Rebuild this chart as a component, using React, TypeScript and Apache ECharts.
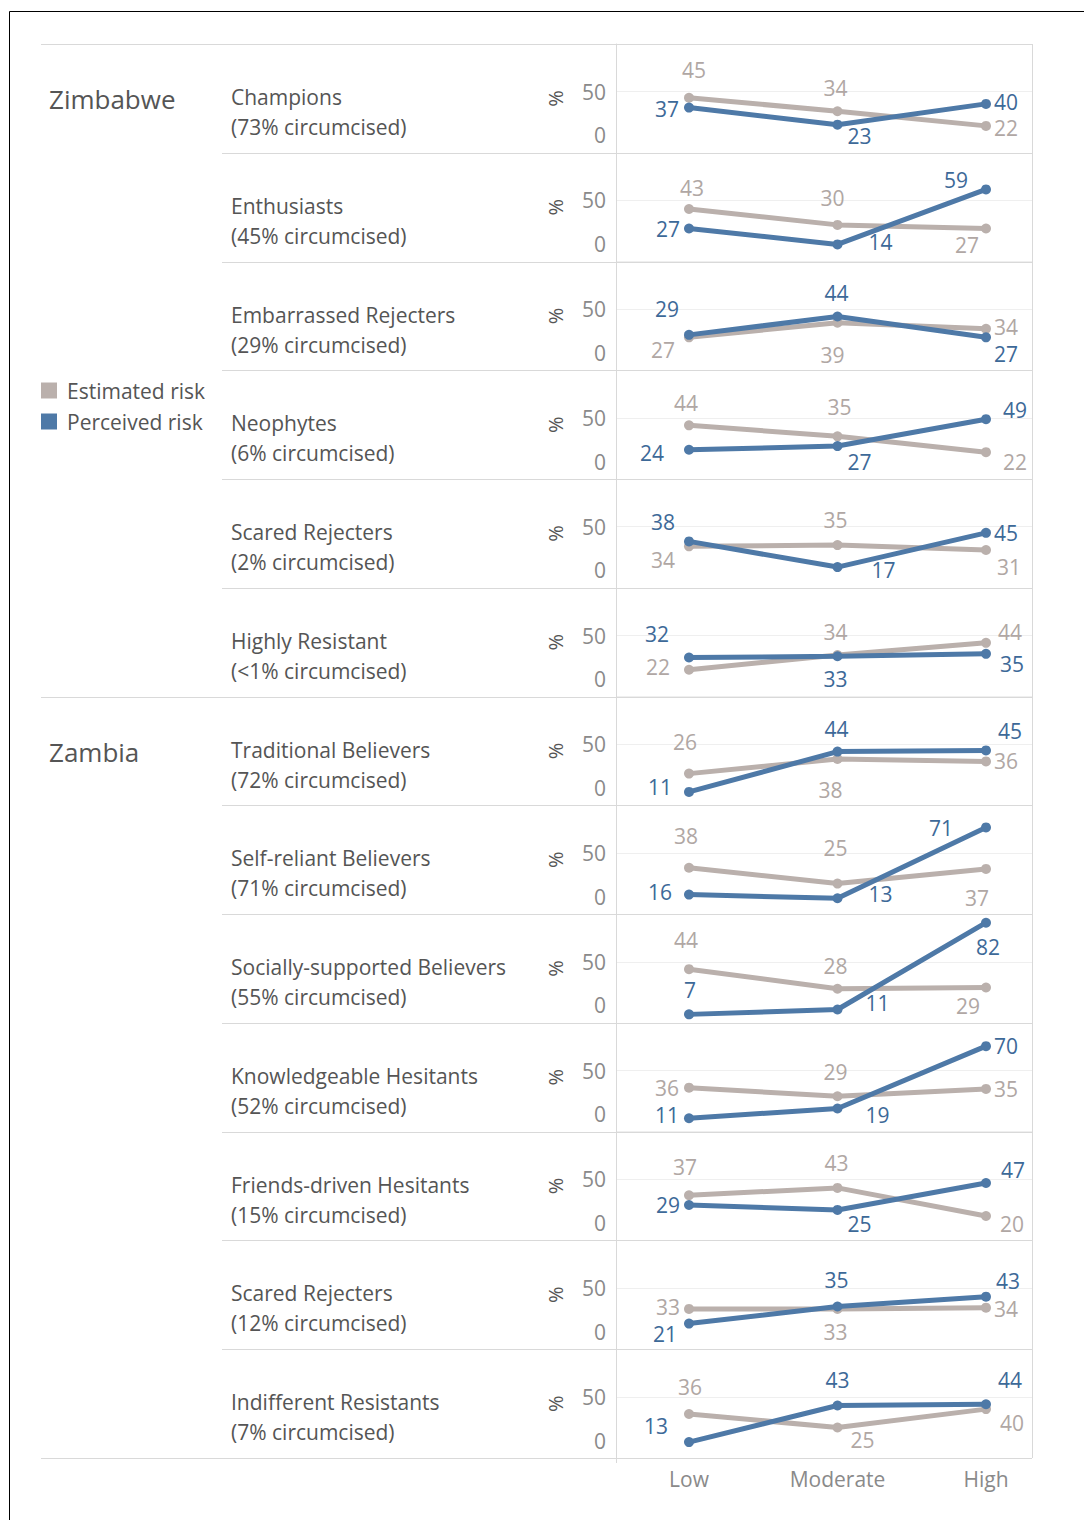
import React, { useEffect, useRef } from "react";
import * as echarts from "echarts";

// ---------- data ----------
const riskLevels = ["Low", "Moderate", "High"];
const countries = ["Zimbabwe", "Zambia"];
const countryRowStart = [0, 6];
const segments = [
  "Champions",
  "Enthusiasts",
  "Embarrassed Rejecters",
  "Neophytes",
  "Scared Rejecters",
  "Highly Resistant",
  "Traditional Believers",
  "Self-reliant Believers",
  "Socially-supported Believers",
  "Knowledgeable Hesitants",
  "Friends-driven Hesitants",
  "Scared Rejecters",
  "Indifferent Resistants",
];
const circumcised = ["73%", "45%", "29%", "6%", "2%", "<1%", "72%", "71%", "55%", "52%", "15%", "12%", "7%"];
const estimatedRisk = [
  [45, 34, 22],
  [43, 30, 27],
  [27, 39, 34],
  [44, 35, 22],
  [34, 35, 31],
  [22, 34, 44],
  [26, 38, 36],
  [38, 25, 37],
  [44, 28, 29],
  [36, 29, 35],
  [37, 43, 20],
  [33, 33, 34],
  [36, 25, 40],
];
const perceivedRisk = [
  [37, 23, 40],
  [27, 14, 59],
  [29, 44, 27],
  [24, 27, 49],
  [38, 17, 45],
  [32, 33, 35],
  [11, 44, 45],
  [16, 13, 71],
  [7, 11, 82],
  [11, 19, 70],
  [29, 25, 47],
  [21, 35, 43],
  [13, 43, 44],
];
const yTicks = [0, 50];

// ---------- layout (label offsets relative to points) ----------
const estLabelOffsets = [
  [[5, -28], [-2, -23], [20, 2]],
  [[3, -21], [-5, -27], [-19, 16]],
  [[-26, 13], [-5, 32], [20, -2]],
  [[-3, -22], [2, -29], [29, 10]],
  [[-26, 14], [-2, -25], [23, 17]],
  [[-31, -3], [-2, -23], [24, -11]],
  [[-4, -32], [-7, 31], [20, 0]],
  [[-3, -32], [-2, -36], [-9, 29]],
  [[-3, -29], [-2, -23], [-18, 19]],
  [[-22, 0], [-2, -24], [20, 0]],
  [[-4, -28], [-1, -25], [26, 8]],
  [[-21, -2], [-2, 23], [20, 1]],
  [[1, -27], [25, 13], [26, 14]],
];
const percLabelOffsets = [
  [[-22, 1], [22, 11], [20, -2]],
  [[-21, 0], [43, -2], [-30, -9]],
  [[-22, -26], [-1, -24], [20, 17]],
  [[-37, 3], [22, 16], [29, -9]],
  [[-26, -19], [46, 3], [20, 0]],
  [[-32, -24], [-2, 23], [26, 10]],
  [[-29, -5], [-1, -23], [24, -19]],
  [[-29, -3], [43, -4], [-45, 1]],
  [[1, -24], [40, -6], [2, 24]],
  [[-22, -3], [40, 7], [20, 0]],
  [[-21, 0], [22, 14], [27, -13]],
  [[-24, 10], [-1, -26], [22, -16]],
  [[-33, -16], [0, -25], [24, -24]],
];

const W = 1084;
const H = 1520;
const TOP = 44;
const ROW_H = 108.77;
const PLOT_L = 616;
const PLOT_R = 1032;
const FONT = "'Open Sans', 'Noto Sans', sans-serif";
const GRAY = "#bab0ac";
const BLUE = "#4e79a7";
const GRAY_TXT = "#b0a7a4";
const BLUE_TXT = "#3d6998";
const DIV = "#d9d9d9";
const AXIS_TXT = "#8a8a8a";
const HEAD_TXT = "#555555";

export default function App() {
  const ref = useRef<HTMLDivElement>(null);
  useEffect(() => {
    if (!ref.current) return;
    const chart = echarts.init(ref.current, null, { renderer: "svg" });
    const n = segments.length;
    const grids: any[] = [];
    const xAxes: any[] = [];
    const yAxes: any[] = [];
    const series: any[] = [];
    for (let i = 0; i < n; i++) {
      const last = i === n - 1;
      grids.push({
        left: PLOT_L,
        width: PLOT_R - PLOT_L,
        top: TOP + i * ROW_H,
        height: ROW_H,
        containLabel: false,
        outerBoundsMode: "none",
      });
      xAxes.push({
        type: "value",
        gridIndex: i,
        min: -0.4916,
        max: 2.3098,
        axisLine: { show: false },
        axisTick: { show: false },
        splitLine: { show: false },
        axisLabel: {
          show: last,
          customValues: [0, 1, 2],
          formatter: (v: number) => riskLevels[Math.round(v)] ?? "",
          fontFamily: FONT,
          fontSize: 21,
          color: AXIS_TXT,
          margin: 10,
        },
      });
      yAxes.push({
        type: "value",
        gridIndex: i,
        min: 0,
        max: 89,
        interval: 50,
        name: "%",
        nameLocation: "middle",
        nameGap: 51,
        nameRotate: 90,
        nameTextStyle: { fontFamily: FONT, fontSize: 20, color: HEAD_TXT },
        axisLine: { show: true, onZero: false, lineStyle: { color: DIV, width: 1 } },
        axisTick: { show: false },
        splitLine: { show: true, lineStyle: { color: "#efefef", width: 1 } },
        axisLabel: {
          fontFamily: FONT,
          fontSize: 21,
          color: AXIS_TXT,
          margin: 10,
          formatter: (v: number) => {
            if (!yTicks.includes(v)) return "";
            return v === 0 ? "{z|0}" : "{m|" + v + "}";
          },
          rich: {
            z: { fontFamily: FONT, fontSize: 21, color: AXIS_TXT, padding: [0, 0, 35, 0] },
            m: { fontFamily: FONT, fontSize: 21, color: AXIS_TXT },
          },
        },
      });
      const mk = (name: string, vals: number[], offs: number[][], color: string, txt: string) => ({
        type: "line",
        name,
        xAxisIndex: i,
        yAxisIndex: i,
        symbol: "circle",
        symbolSize: 10,
        lineStyle: { color, width: 5 },
        itemStyle: { color },
        z: name === "Perceived risk" ? 4 : 3,
        label: {
          show: true,
          position: "inside",
          fontFamily: FONT,
          fontSize: 21,
          lineHeight: 17,
          color: txt,
          formatter: (p: any) => String(p.value[1]),
        },
        data: vals.map((v, j) => ({ value: [j, v], label: { offset: offs[j] } })),
      });
      series.push(mk("Estimated risk", estimatedRisk[i], estLabelOffsets[i], GRAY, GRAY_TXT));
      series.push(mk("Perceived risk", perceivedRisk[i], percLabelOffsets[i], BLUE, BLUE_TXT));
    }

    const graphics: any[] = [];
    graphics.push({
      type: "rect",
      shape: { x: 9.5, y: 11.5, width: 1200, height: 1600 },
      style: { fill: "none", stroke: "#000", lineWidth: 1 },
      silent: true,
    });
    for (let k = 0; k <= n; k++) {
      const y = Math.round(TOP + k * ROW_H) + 0.5;
      const full = k === 0 || k === n || countryRowStart.includes(k);
      graphics.push({
        type: "line",
        shape: { x1: full ? 41 : 222, y1: y, x2: PLOT_R, y2: y },
        style: { stroke: DIV, lineWidth: 1 },
        z: 1,
        silent: true,
      });
    }
    graphics.push({
      type: "line",
      shape: { x1: PLOT_R + 0.5, y1: TOP, x2: PLOT_R + 0.5, y2: TOP + n * ROW_H },
      style: { stroke: DIV, lineWidth: 1 },
      silent: true,
    });
    graphics.push({
      type: "line",
      shape: { x1: PLOT_L + 0.5, y1: TOP + n * ROW_H, x2: PLOT_L + 0.5, y2: TOP + n * ROW_H + 5 },
      style: { stroke: DIV, lineWidth: 1 },
      silent: true,
    });
    countries.forEach((c, ci) => {
      graphics.push({
        type: "text",
        x: 49,
        y: TOP + countryRowStart[ci] * ROW_H + 55,
        style: { text: c, fontFamily: FONT, fontSize: 26, fill: HEAD_TXT, verticalAlign: "middle" },
        silent: true,
      });
    });
    for (let i = 0; i < n; i++) {
      graphics.push({
        type: "text",
        x: 231,
        y: TOP + i * ROW_H + 68,
        style: {
          text: segments[i] + "\n(" + circumcised[i] + " circumcised)",
          fontFamily: FONT,
          fontSize: 21,
          lineHeight: 30,
          fill: HEAD_TXT,
          verticalAlign: "middle",
        },
        silent: true,
      });
    }

    chart.setOption({
      animation: false,
      backgroundColor: "#fff",
      grid: grids,
      xAxis: xAxes,
      yAxis: yAxes,
      series,
      legend: {
        orient: "vertical",
        left: 41,
        top: 380,
        padding: 0,
        icon: "rect",
        itemWidth: 16,
        itemHeight: 16,
        itemGap: 10,
        selectedMode: false,
        data: [
          { name: "Estimated risk", itemStyle: { color: GRAY } },
          { name: "Perceived risk", itemStyle: { color: BLUE } },
        ],
        textStyle: { fontFamily: FONT, fontSize: 21, color: HEAD_TXT, padding: [0, 0, 0, 5] },
      },
      graphic: graphics,
    });
    return () => chart.dispose();
  }, []);
  return (
    <div
      ref={ref}
      style={{ position: "absolute", left: 0, top: 0, width: W, height: H, background: "#fff" }}
    />
  );
}
